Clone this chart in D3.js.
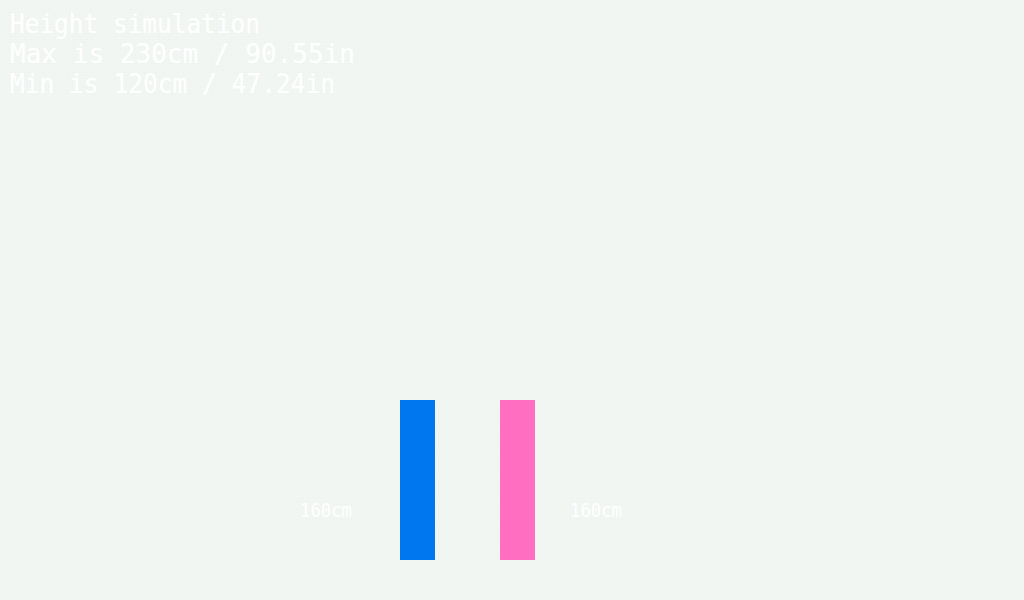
<!DOCTYPE html>
<html>
<head>
<meta charset="utf-8">
<script src="https://cdn.jsdelivr.net/npm/d3@7"></script>
<style>
  html, body { margin: 0; padding: 0; background: #f2f6f3; }
  svg { display: block; }
</style>
</head>
<body>
<svg id="chart" width="1024" height="600"></svg>
<script>
const categories = ["male", "female"];
const heights = [160, 160];
const barColors = ["#0077ee", "#ff6ec0"];
const maxHeight = 230;
const minHeight = 120;
const titleLines = [
  "Height simulation",
  "Max is 230cm / 90.55in",
  "Min is 120cm / 47.24in"
];
const titleWidths = [250, 345, 325];

const svg = d3.select("#chart");
const W = 1024, H = 600;

// subtle dotted texture background
const defs = svg.append("defs");
const pat = defs.append("pattern").attr("id", "dots").attr("width", 3).attr("height", 3)
  .attr("patternUnits", "userSpaceOnUse");
pat.append("rect").attr("width", 3).attr("height", 3).attr("fill", "#f2f6f3");
pat.append("rect").attr("width", 1).attr("height", 1).attr("fill", "#eef2ef");
svg.append("rect").attr("width", W).attr("height", H).attr("fill", "url(#dots)");

const baseline = 560;
const y = d3.scaleLinear().domain([0, maxHeight]).range([baseline, baseline - maxHeight]);
const x = d3.scaleBand().domain(categories).range([400, 535]).paddingInner(0.65).paddingOuter(0);

svg.selectAll("rect.bar").data(categories).join("rect")
  .attr("class", "bar")
  .attr("x", d => x(d))
  .attr("y", (d, i) => y(heights[i]))
  .attr("width", x.bandwidth())
  .attr("height", (d, i) => y(0) - y(heights[i]))
  .attr("fill", (d, i) => barColors[i]);

const font = "'DejaVu Sans Mono', monospace";

svg.selectAll("text.val").data(categories).join("text")
  .attr("class", "val")
  .attr("x", (d, i) => i === 0 ? x(d) - 48 : x(d) + x.bandwidth() + 35)
  .attr("y", 517)
  .attr("text-anchor", (d, i) => i === 0 ? "end" : "start")
  .attr("textLength", 52)
  .attr("lengthAdjust", "spacingAndGlyphs")
  .attr("font-family", font)
  .attr("font-size", 20)
  .attr("fill", "#ffffff")
  .text((d, i) => heights[i] + "cm");

svg.selectAll("text.title").data(titleLines).join("text")
  .attr("class", "title")
  .attr("x", 10)
  .attr("y", (d, i) => 33 + i * 30)
  .attr("textLength", (d, i) => titleWidths[i])
  .attr("lengthAdjust", "spacingAndGlyphs")
  .attr("font-family", font)
  .attr("font-size", 27)
  .attr("fill", "#ffffff")
  .text(d => d);
</script>
</body>
</html>
